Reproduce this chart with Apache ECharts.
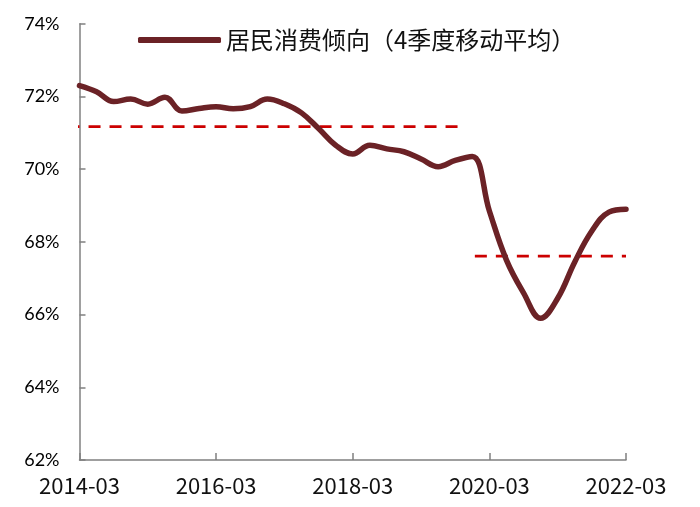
<!DOCTYPE html>
<html>
<head>
<meta charset="utf-8">
<script src="https://cdn.jsdelivr.net/npm/echarts@6/dist/echarts.min.js"></script>
<style>html,body{margin:0;padding:0;background:#fff}#c{width:700px;height:507px}</style>
</head>
<body>
<div id="c"></div>
<script>
const quarters = [
  '2014-03','2014-06','2014-09','2014-12',
  '2015-03','2015-06','2015-09','2015-12',
  '2016-03','2016-06','2016-09','2016-12',
  '2017-03','2017-06','2017-09','2017-12',
  '2018-03','2018-06','2018-09','2018-12',
  '2019-03','2019-06','2019-09','2019-12',
  '2020-03','2020-06','2020-09','2020-12',
  '2021-03','2021-06','2021-09','2021-12',
  '2022-03'
];
const propensity = [
  72.30, 72.13, 71.86, 71.93,
  71.79, 71.98, 71.60, 71.67,
  71.72, 71.66, 71.72, 71.93,
  71.80, 71.55, 71.12, 70.66,
  70.42, 70.66, 70.56, 70.48,
  70.28, 70.07, 70.24, 70.35,
  68.85, 67.50, 66.60, 65.90,
  66.45, 67.45, 68.30, 68.82,
  68.90
];
// reference averages: [level, from index, to index]
const avgBefore = [71.17, -0.7, 22.3];
const avgAfter = [67.61, 23.15, 32];
const yTicks = [62, 64, 66, 68, 70, 72, 74];
const seriesName = '居民消费倾向（4季度移动平均）';

const chart = echarts.init(document.getElementById('c'), null, {renderer: 'canvas'});
const axisGray = '#808080';
chart.setOption({
  backgroundColor: '#fff',
  animation: false,
  legend: {
    data: [seriesName],
    left: 138, top: 28, padding: 0,
    icon: 'roundRect',
    itemWidth: 83, itemHeight: 6,
    itemStyle: {color: '#6b2226'},
    textStyle: {fontFamily: 'Noto Sans CJK SC', fontSize: 24, color: '#111'}
  },
  grid: {left: 79.5, right: 74, top: 23.8, bottom: 47},
  xAxis: {
    type: 'value', min: 0, max: quarters.length - 1, interval: 8,
    axisLine: {lineStyle: {color: axisGray, width: 1.5}},
    axisTick: {inside: true, length: 7, lineStyle: {color: axisGray, width: 1.5}},
    splitLine: {show: false},
    axisLabel: {
      margin: 15, fontFamily: 'Noto Sans CJK SC', fontSize: 22, color: '#111',
      formatter: v => quarters[v] || ''
    }
  },
  yAxis: {
    type: 'value', min: yTicks[0], max: yTicks[yTicks.length - 1], interval: 2,
    axisLine: {show: true, lineStyle: {color: axisGray, width: 1.5}},
    axisTick: {show: true, inside: true, length: 6, lineStyle: {color: axisGray, width: 1.5}},
    splitLine: {show: false},
    axisLabel: {margin: 20, fontFamily: 'Lato', fontSize: 18, color: '#000', formatter: v => v + '%'}
  },
  series: [
    {
      name: seriesName, type: 'line', smooth: 0.4, symbol: 'none',
      lineStyle: {color: '#6b2226', width: 5.5, cap: 'round'},
      itemStyle: {color: '#6b2226'},
      data: propensity.map((v, i) => [i, v]), z: 3
    },
    {
      name: 'avg1', type: 'line', symbol: 'none', clip: false,
      lineStyle: {color: '#cc0000', width: 2.8, type: [12, 9]},
      data: [[avgBefore[1], avgBefore[0]], [avgBefore[2], avgBefore[0]]], z: 2
    },
    {
      name: 'avg2', type: 'line', symbol: 'none', clip: false,
      lineStyle: {color: '#cc0000', width: 2.8, type: [12, 9]},
      data: [[avgAfter[1], avgAfter[0]], [avgAfter[2], avgAfter[0]]], z: 2
    }
  ]
});
</script>
</body>
</html>
